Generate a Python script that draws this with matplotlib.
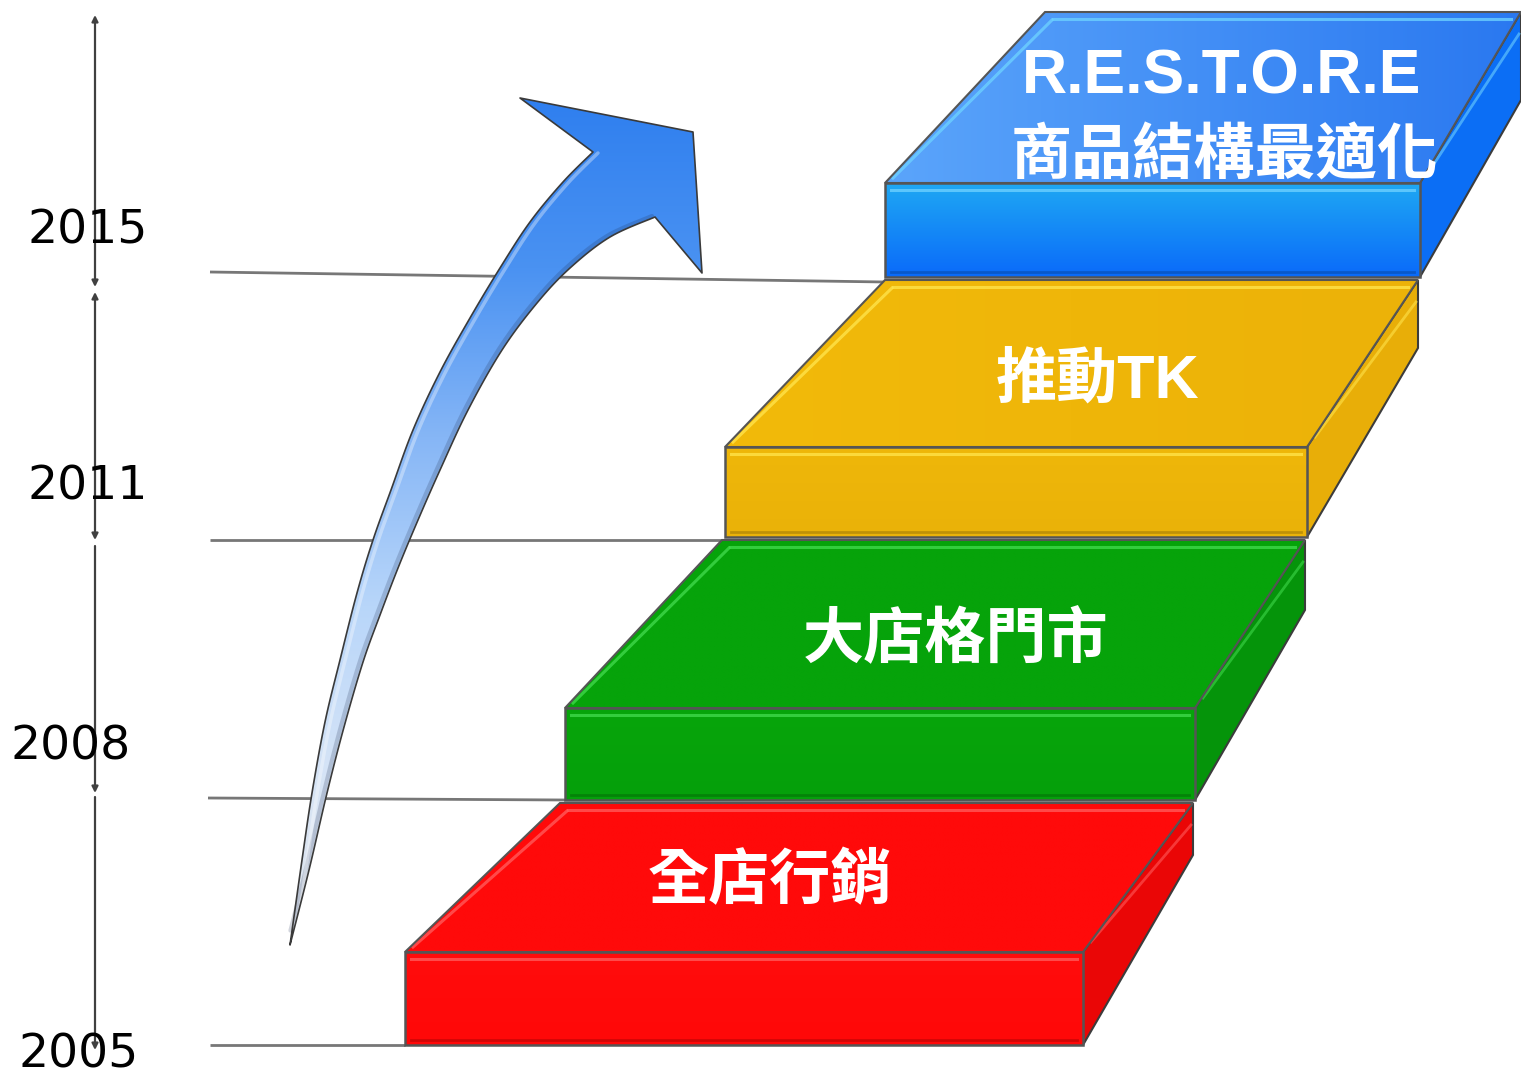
import numpy as np
import matplotlib
matplotlib.use("Agg")
import matplotlib.pyplot as plt
from matplotlib.patches import Polygon
from matplotlib.colors import to_rgb

# ---- data -------------------------------------------------------------
years      = ['2005', '2008', '2011', '2015']
year_pos   = [(79, 1068), (71, 760), (88, 500), (88, 244)]   # baseline
sep_lines  = [((210, 1045), (405, 1045)), ((208, 798), (565, 800)),
              ((210, 540), (725, 540)), ((210, 272), (885, 282))]

step_text  = ['全店行銷', '大店格門市', '推動TK', '商品結構最適化']
text_pos   = [(770, 883), (956, 642), (1097, 382), (1225, 158)]
top_title  = 'R.E.S.T.O.R.E'

front_left   = [405, 565, 725, 885]
front_right  = [1083, 1195, 1307, 1420]
front_top    = [952, 708, 447, 183]
front_bottom = [1045, 800, 537, 277]
back_y       = [803, 540, 280, 12]
back_left    = [560, 722, 885, 1045]
back_right   = [1193, 1305, 1418, 1521]
side_low     = [855, 610, 348, 100]

face_top   = [('#ff0a0a', '#ff0a0a'), ('#06a30a', '#06a30a'),
              ('#f2ba0a', '#ecb208'), ('#5ba5fb', '#2a78f0')]
face_front = [('#ff0c0c', '#ff0808'), ('#07a50b', '#05a00a'),
              ('#efb70a', '#eab208'), ('#1fa8f3', '#0a6afa')]
face_side  = ['#ea0606', '#05940a', '#e8ae08', '#0b6ef5']
hilite     = ['#ff5a5a', '#3fd84a', '#ffe34a', '#6cd0ff']

arrow_left  = [(290, 945), (302, 860), (312, 793), (325, 722),
               (340, 660), (357, 593), (373, 540), (391, 490), (413, 430),
               (440, 372), (470, 318), (500, 268), (530, 222), (563, 182),
               (593, 152)]
arrow_head  = [(520, 98), (693, 132), (702, 273)]
arrow_right = [(655, 217), (610, 237), (570, 268), (537, 303), (502, 350),
               (468, 410), (440, 470), (418, 520), (398, 568), (380, 615),
               (363, 662), (344, 727), (327, 793), (309, 870), (290, 945)]

W, H = 1521, 1077
fig = plt.figure(figsize=(W / 100, H / 100), dpi=100)
ax = fig.add_axes([0, 0, 1, 1])
ax.set_xlim(0, W)
ax.set_ylim(H, 0)
ax.axis('off')


def smooth(pts, n=12):
    # catmull-rom through the outline points
    p = np.array(pts, dtype=float)
    p = np.vstack([p[0], p, p[-1]])
    out = []
    for i in range(1, len(p) - 2):
        p0, p1, p2, p3 = p[i - 1], p[i], p[i + 1], p[i + 2]
        for t in np.linspace(0, 1, n, endpoint=False):
            t2, t3 = t * t, t * t * t
            out.append(0.5 * (2 * p1 + (-p0 + p2) * t + (2 * p0 - 5 * p1 + 4 * p2 - p3) * t2
                              + (-p0 + 3 * p1 - 3 * p2 + p3) * t3))
    out.append(p[-2])
    return [tuple(q) for q in out]


def grad_poly(pts, c1, c2, z, vertical=True, stops=None):
    poly = Polygon(pts, closed=True, facecolor='none', edgecolor='none', zorder=z)
    ax.add_patch(poly)
    xs = [q[0] for q in pts]
    ys = [q[1] for q in pts]
    t = np.linspace(0, 1, 256)
    if stops is None:
        stops = [(0, c1), (1, c2)]
    pos = [s[0] for s in stops]
    cols = np.array([to_rgb(s[1]) for s in stops])
    rgb = np.stack([np.interp(t, pos, cols[:, k]) for k in range(3)], axis=-1)
    if vertical:
        img = rgb[:, None, :].repeat(2, axis=1)
    else:
        img = rgb[None, :, :].repeat(2, axis=0)
    im = ax.imshow(img, extent=[min(xs), max(xs), max(ys), min(ys)],
                   origin='upper', aspect='auto', zorder=z, interpolation='bilinear')
    im.set_clip_path(poly)
    return poly


# year axis
axis_segs = [(15, 287, '<|-|>'), (292, 540, '<|-|>'), (546, 793, '<|-'), (797, 1050, '<|-')]
for y0, y1, st in axis_segs:
    ax.annotate('', xy=(95, y0), xytext=(95, y1),
                arrowprops=dict(arrowstyle=st, color='#404040', lw=1.6,
                                mutation_scale=9, shrinkA=0, shrinkB=0))
for yr, (x, y) in zip(years, year_pos):
    ax.text(x, y, yr, fontsize=34, ha='center', va='baseline', color='black',
            family='DejaVu Sans', zorder=6)

for (p0, p1) in sep_lines:
    ax.plot([p0[0], p1[0]], [p0[1], p1[1]], color='#777777', lw=2, zorder=1,
            solid_capstyle='butt')

# curved arrow
left_s = smooth(arrow_left)
right_s = smooth(arrow_right)
arrow_pts = left_s + arrow_head + right_s
grad_poly(arrow_pts, None, None, 3,
          stops=[(0, '#2f7fef'), (0.2, '#4a92f2'), (0.4, '#86b6f6'),
                 (0.6, '#b8d6fa'), (0.8, '#d6e4f6'), (1, '#e2e6ec')])
# soft shading along the inner edge, light streak along the outer edge
rs = np.array(right_s)
ax.plot(rs[:-3, 0] - 3, rs[:-3, 1] - 1, color='#1a2a50', lw=3, alpha=0.2,
        zorder=3.2, solid_capstyle='round')
ls = np.array(left_s)
ax.plot(ls[3:, 0] + 5, ls[3:, 1] + 1, color='white', lw=2.5, alpha=0.35,
        zorder=3.2, solid_capstyle='round')
ax.add_patch(Polygon(arrow_pts, closed=True, facecolor='none',
                     edgecolor='#3a3a3a', lw=1.2, zorder=3.5, joinstyle='round'))

# steps
edge = '#555555'
for i in range(4):
    z = 4 + i * 0.1
    fl, fr, ft, fb = front_left[i], front_right[i], front_top[i], front_bottom[i]
    by, bl, br = back_y[i], back_left[i], back_right[i]
    side = [(fr, ft), (br, by), (br, side_low[i]), (fr, fb)]
    top = [(fl, ft), (fr, ft), (br, by), (bl, by)]
    front = [(fl, ft), (fr, ft), (fr, fb), (fl, fb)]

    ax.add_patch(Polygon(side, closed=True, facecolor=face_side[i],
                         edgecolor='#3c3c3c', lw=1.5, zorder=z))
    grad_poly(top, face_top[i][0], face_top[i][1], z, vertical=False)
    ax.add_patch(Polygon(top, closed=True, facecolor='none',
                         edgecolor=edge, lw=1.5, zorder=z + 0.02))
    grad_poly(front, face_front[i][0], face_front[i][1], z + 0.03)
    ax.add_patch(Polygon(front, closed=True, facecolor='none',
                         edgecolor=edge, lw=1.8, zorder=z + 0.04))

    # bevel highlights
    ax.plot([bl + 8, br - 10], [by + 7, by + 7], color=hilite[i], lw=2.2,
            alpha=0.8, zorder=z + 0.01)
    ax.plot([fl + 8, bl + 7], [ft - 5, by + 8], color=hilite[i], lw=2.2,
            alpha=0.8, zorder=z + 0.01)
    ax.plot([fl + 6, fr - 6], [ft + 7, ft + 7], color=hilite[i], lw=2.2,
            alpha=0.8, zorder=z + 0.035)
    ax.plot([fl + 6, fr - 6], [fb - 5, fb - 5], color='black', lw=2.0,
            alpha=0.18, zorder=z + 0.035)
    ax.plot([fr + 8, br - 2], [ft - 10, by + 22], color=hilite[i], lw=2.0,
            alpha=0.6, zorder=z + 0.01)

# labels on steps
for i, (txt, (x, y)) in enumerate(zip(step_text, text_pos)):
    ax.text(x, y, txt, fontsize=44, ha='center', va='center', color='white',
            fontweight='bold', family=['Liberation Sans', 'Noto Sans CJK TC'],
            zorder=8)
ax.text(1222, 77, top_title, fontsize=45, ha='center', va='center', color='white',
        fontweight='bold', family='Liberation Sans', zorder=8)

fig.savefig('out.png', dpi=100)
